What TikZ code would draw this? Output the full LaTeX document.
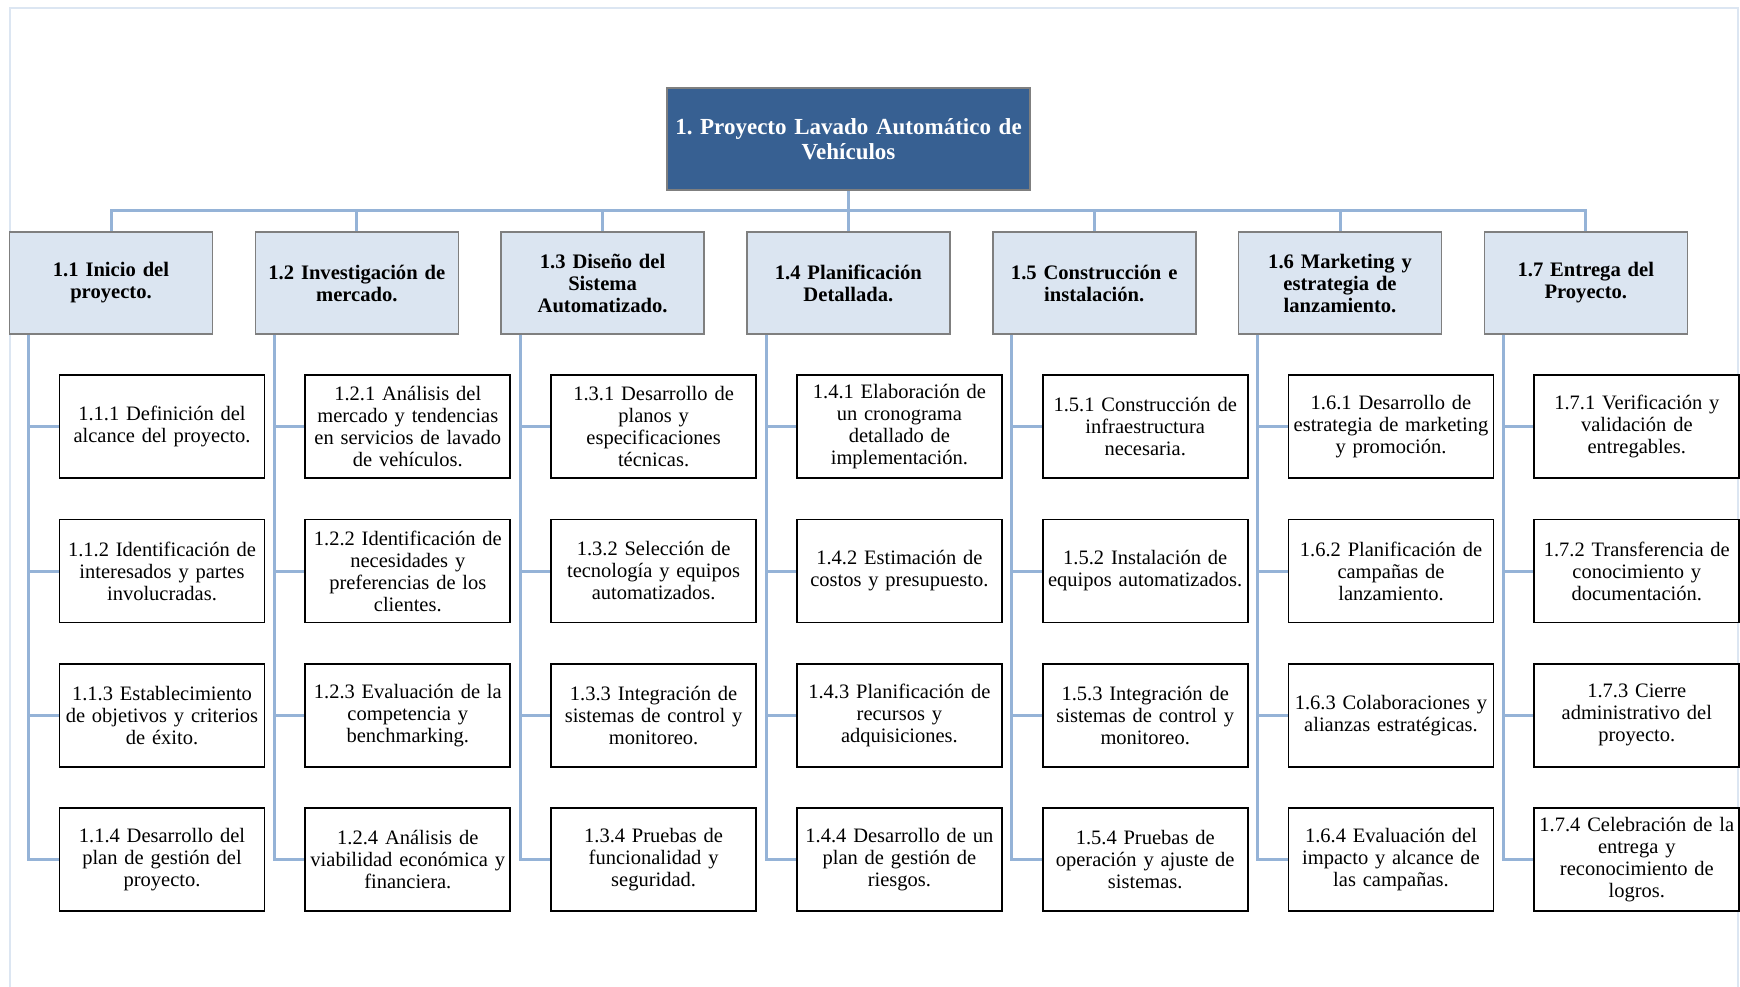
\documentclass[tikz,border=0pt]{standalone}
\usepackage{fontspec}
\setmainfont{Liberation Serif}
\frenchspacing
\definecolor{topfill}{HTML}{376092}
\definecolor{lvlfill}{HTML}{DBE5F1}
\definecolor{boxedge}{HTML}{7F7F7F}
\definecolor{linkblue}{HTML}{95B3D7}
\definecolor{framec}{HTML}{DCE6F2}
\tikzset{
  rootbox/.style={draw=boxedge, line width=1.6pt, fill=topfill, text=white,
    minimum width=363pt, minimum height=102pt, text width=361pt, inner sep=1pt,
    align=center, font=\fontsize{23}{25.5}\selectfont\bfseries},
  phasebox/.style={draw=boxedge, line width=1.6pt, fill=lvlfill,
    minimum width=203pt, minimum height=102pt, text width=201pt, inner sep=1pt,
    align=center, font=\fontsize{20.6}{22}\selectfont\bfseries},
  taskbox/.style={draw=black, line width=1.8pt, fill=white,
    minimum width=205pt, minimum height=103pt, text width=204pt, inner sep=0.5pt,
    align=center, font=\fontsize{20.5}{22}\selectfont},
  conn/.style={draw=linkblue, line width=3pt},
}
\begin{document}
\begin{tikzpicture}[x=1pt,y=-1pt]
\useasboundingbox (0,0) rectangle (1740,987);
% outer frame
\draw[framec, line width=2pt] (10,1000) -- (10,8) -- (1738,8) -- (1738,1000);

% root
\node[rootbox] (top) at (848.5,139) {1. Proyecto Lavado Automático de\\Vehículos};
\coordinate (bus) at (848.5,211);

% phases
\node[phasebox] (g1) at (111,283)   {1.1 Inicio del\\proyecto.};
\node[phasebox] (g2) at (356.8,283) {1.2 Investigación de\\mercado.};
\node[phasebox] (g3) at (602.6,283) {1.3 Diseño del\\Sistema\\Automatizado.};
\node[phasebox] (g4) at (848.4,283) {1.4 Planificación\\Detallada.};
\node[phasebox] (g5) at (1094.2,283) {1.5 Construcción e\\instalación.};
\node[phasebox] (g6) at (1340,283)  {1.6 Marketing y\\estrategia de\\lanzamiento.};
\node[phasebox] (g7) at (1585.8,283) {1.7 Entrega del\\Proyecto.};

% tasks 1.1
\node[taskbox] (g11) at (162,426.7) {1.1.1 Definición del\\alcance del proyecto.};
\node[taskbox] (g12) at (162,571)   {1.1.2 Identificación de\\interesados y partes\\involucradas.};
\node[taskbox] (g13) at (162,715.2) {1.1.3 Establecimiento\\de objetivos y criterios\\de éxito.};
\node[taskbox] (g14) at (162,859.4) {1.1.4 Desarrollo del\\plan de gestión del\\proyecto.};
% tasks 1.2
\node[taskbox] (g21) at (407.8,426.7) {1.2.1 Análisis del\\mercado y tendencias\\en servicios de lavado\\de vehículos.};
\node[taskbox] (g22) at (407.8,571)   {1.2.2 Identificación de\\necesidades y\\preferencias de los\\clientes.};
\node[taskbox] (g23) at (407.8,715.2) {1.2.3 Evaluación de la\\competencia y\\benchmarking.};
\node[taskbox] (g24) at (407.8,859.4) {1.2.4 Análisis de\\viabilidad económica y\\financiera.};
% tasks 1.3
\node[taskbox] (g31) at (653.6,426.7) {1.3.1 Desarrollo de\\planos y\\especificaciones\\técnicas.};
\node[taskbox] (g32) at (653.6,571)   {1.3.2 Selección de\\tecnología y equipos\\automatizados.};
\node[taskbox] (g33) at (653.6,715.2) {1.3.3 Integración de\\sistemas de control y\\monitoreo.};
\node[taskbox] (g34) at (653.6,859.4) {1.3.4 Pruebas de\\funcionalidad y\\seguridad.};
% tasks 1.4
\node[taskbox] (g41) at (899.4,426.7) {1.4.1 Elaboración de\\un cronograma\\detallado de\\implementación.};
\node[taskbox] (g42) at (899.4,571)   {1.4.2 Estimación de\\costos y presupuesto.};
\node[taskbox] (g43) at (899.4,715.2) {1.4.3 Planificación de\\recursos y\\adquisiciones.};
\node[taskbox] (g44) at (899.4,859.4) {1.4.4 Desarrollo de un\\plan de gestión de\\riesgos.};
% tasks 1.5
\node[taskbox] (g51) at (1145.2,426.7) {1.5.1 Construcción de\\infraestructura\\necesaria.};
\node[taskbox] (g52) at (1145.2,571)   {1.5.2 Instalación de\\equipos automatizados.};
\node[taskbox] (g53) at (1145.2,715.2) {1.5.3 Integración de\\sistemas de control y\\monitoreo.};
\node[taskbox] (g54) at (1145.2,859.4) {1.5.4 Pruebas de\\operación y ajuste de\\sistemas.};
% tasks 1.6
\node[taskbox] (g61) at (1391,426.7) {1.6.1 Desarrollo de\\estrategia de marketing\\y promoción.};
\node[taskbox] (g62) at (1391,571)   {1.6.2 Planificación de\\campañas de\\lanzamiento.};
\node[taskbox] (g63) at (1391,715.2) {1.6.3 Colaboraciones y\\alianzas estratégicas.};
\node[taskbox] (g64) at (1391,859.4) {1.6.4 Evaluación del\\impacto y alcance de\\las campañas.};
% tasks 1.7
\node[taskbox] (g71) at (1636.8,426.7) {1.7.1 Verificación y\\validación de\\entregables.};
\node[taskbox] (g72) at (1636.8,571)   {1.7.2 Transferencia de\\conocimiento y\\documentación.};
\node[taskbox] (g73) at (1636.8,715.2) {1.7.3 Cierre\\administrativo del\\proyecto.};
\node[taskbox] (g74) at (1636.8,859.4) {1.7.4 Celebración de la\\entrega y\\reconocimiento de\\logros.};

% connectors
\draw[conn] (top.south) -- (bus);
\foreach \g in {1,...,7}
  \draw[conn] (g\g.north) |- (bus);
\foreach \g in {1,...,7}
  \foreach \r in {1,...,4}
    \draw[conn] ([xshift=20pt]g\g.south west) |- (g\g\r.west);
\end{tikzpicture}
\end{document}
